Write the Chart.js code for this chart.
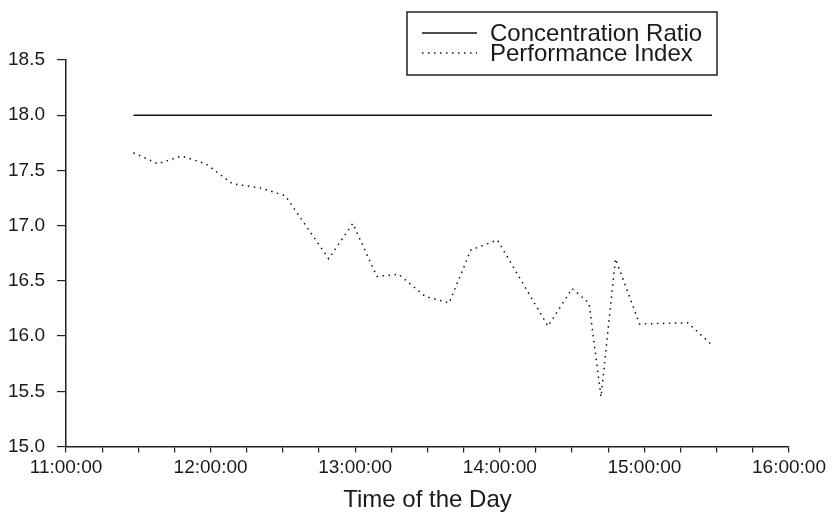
<!DOCTYPE html>
<html>
<head>
<meta charset="utf-8">
<title>Concentration Ratio and Performance Index</title>
<script src="https://cdn.jsdelivr.net/npm/chart.js@4.4.1/dist/chart.umd.min.js"></script>
<style>
    html, body { margin: 0; padding: 0; background: #fff; }
    #chartBox { position: relative; width: 835px; height: 512px; }
</style>
</head>
<body>
<div id="chartBox"><canvas id="ratioChart"></canvas></div>
<script>
// Series names
const seriesNames = ['Concentration Ratio', 'Performance Index'];

// Concentration ratio stays flat over the session
const ratioTimes = ['11:28', '15:28'];
const ratioValues = [18.0, 18.0];

// Performance index readings
const perfTimes = ['11:28', '11:38', '11:48', '11:58', '12:09', '12:21', '12:31', '12:49', '12:59', '13:09', '13:18', '13:29',
    '13:39', '13:48', '13:59', '14:20', '14:30', '14:37', '14:42', '14:48', '14:58', '15:18', '15:28'];
const perfValues = [17.66, 17.56, 17.63, 17.56, 17.38, 17.34, 17.27, 16.70, 17.02, 16.54, 16.56, 16.36,
    16.30, 16.78, 16.87, 16.09, 16.43, 16.30, 15.45, 16.70, 16.11, 16.12, 15.92];

// Axis ticks
const hourTicks = ['11:00:00', '12:00:00', '13:00:00', '14:00:00', '15:00:00', '16:00:00'];
const valueTicks = [15.0, 15.5, 16.0, 16.5, 17.0, 17.5, 18.0, 18.5];

const fontFamily = '"Liberation Sans", Arial, Helvetica, sans-serif';
const inkColor = '#1a1a1a';

// "hh:mm" or "hh:mm:ss" -> minutes after midnight
function toMinutes(t) {
    const parts = t.split(':').map(Number);
    return parts[0] * 60 + parts[1] + (parts[2] || 0) / 60;
}

function toPoints(times, values) {
    return times.map((t, i) => ({ x: toMinutes(t), y: values[i] }));
}

// Boxed legend drawn over the top of the plot
const boxLegend = {
    id: 'boxLegend',
    afterDraw(chart) {
        const ctx = chart.ctx;
        const left = 407, top = 12, width = 310, height = 63;
        ctx.save();
        ctx.fillStyle = '#fff';
        ctx.fillRect(left, top, width, height);
        ctx.strokeStyle = '#222';
        ctx.lineWidth = 1.5;
        ctx.strokeRect(left, top, width, height);
        ctx.font = '24px ' + fontFamily;
        ctx.textBaseline = 'middle';
        chart.data.datasets.forEach((ds, i) => {
            const y = top + 21 + i * 20;
            ctx.beginPath();
            ctx.setLineDash(ds.borderDash || []);
            ctx.lineWidth = ds.borderWidth;
            ctx.strokeStyle = ds.borderColor;
            ctx.moveTo(left + 15, y);
            ctx.lineTo(left + 70, y);
            ctx.stroke();
            ctx.setLineDash([]);
            ctx.fillStyle = inkColor;
            ctx.fillText(ds.label, left + 83, y + 1);
        });
        ctx.restore();
    }
};

function createRatioChart() {
    const ctx = document.getElementById('ratioChart').getContext('2d');
    const xMin = toMinutes(hourTicks[0]);
    const xMax = toMinutes(hourTicks[hourTicks.length - 1]);

    window.ratioChart = new Chart(ctx, {
        type: 'line',
        data: {
            datasets: [{
                label: seriesNames[0],
                data: toPoints(ratioTimes, ratioValues),
                borderColor: '#111',
                borderWidth: 1.5,
                pointRadius: 0,
                fill: false
            }, {
                label: seriesNames[1],
                data: toPoints(perfTimes, perfValues),
                borderColor: '#111',
                borderWidth: 1.5,
                borderDash: [1.5, 4.5],
                pointRadius: 0,
                fill: false
            }]
        },
        options: {
            responsive: true,
            maintainAspectRatio: false,
            animation: false,
            layout: { padding: { top: 60, right: 46, bottom: 0, left: 0 } },
            plugins: {
                legend: { display: false }
            },
            scales: {
                x: {
                    type: 'linear',
                    min: xMin,
                    max: xMax,
                    grid: { drawOnChartArea: false, tickLength: 6, color: '#222', lineWidth: 1.2 },
                    border: { color: '#222', width: 1.5 },
                    ticks: {
                        stepSize: 15,
                        autoSkip: false,
                        maxRotation: 0,
                        padding: 4,
                        color: inkColor,
                        font: { family: fontFamily, size: 19 },
                        callback: function (value) {
                            const label = hourTicks.find(h => toMinutes(h) === value);
                            return label || '';
                        }
                    },
                    title: {
                        display: true,
                        text: 'Time of the Day',
                        color: inkColor,
                        font: { family: fontFamily, size: 24, lineHeight: 1 },
                        padding: { top: 0, bottom: 0 }
                    },
                    afterFit: function (scale) { scale.height = 65.5; }
                },
                y: {
                    min: valueTicks[0],
                    max: valueTicks[valueTicks.length - 1],
                    grid: { drawOnChartArea: false, tickLength: 9, color: '#222', lineWidth: 1.2 },
                    border: { color: '#222', width: 1.5 },
                    ticks: {
                        stepSize: 0.5,
                        padding: 12,
                        color: inkColor,
                        font: { family: fontFamily, size: 19 },
                        callback: function (value) {
                            return valueTicks.includes(value) ? value.toFixed(1) : '';
                        }
                    },
                    afterFit: function (scale) { scale.width = 66; }
                }
            }
        },
        plugins: [boxLegend]
    });
}

window.addEventListener('load', createRatioChart);
</script>
</body>
</html>
